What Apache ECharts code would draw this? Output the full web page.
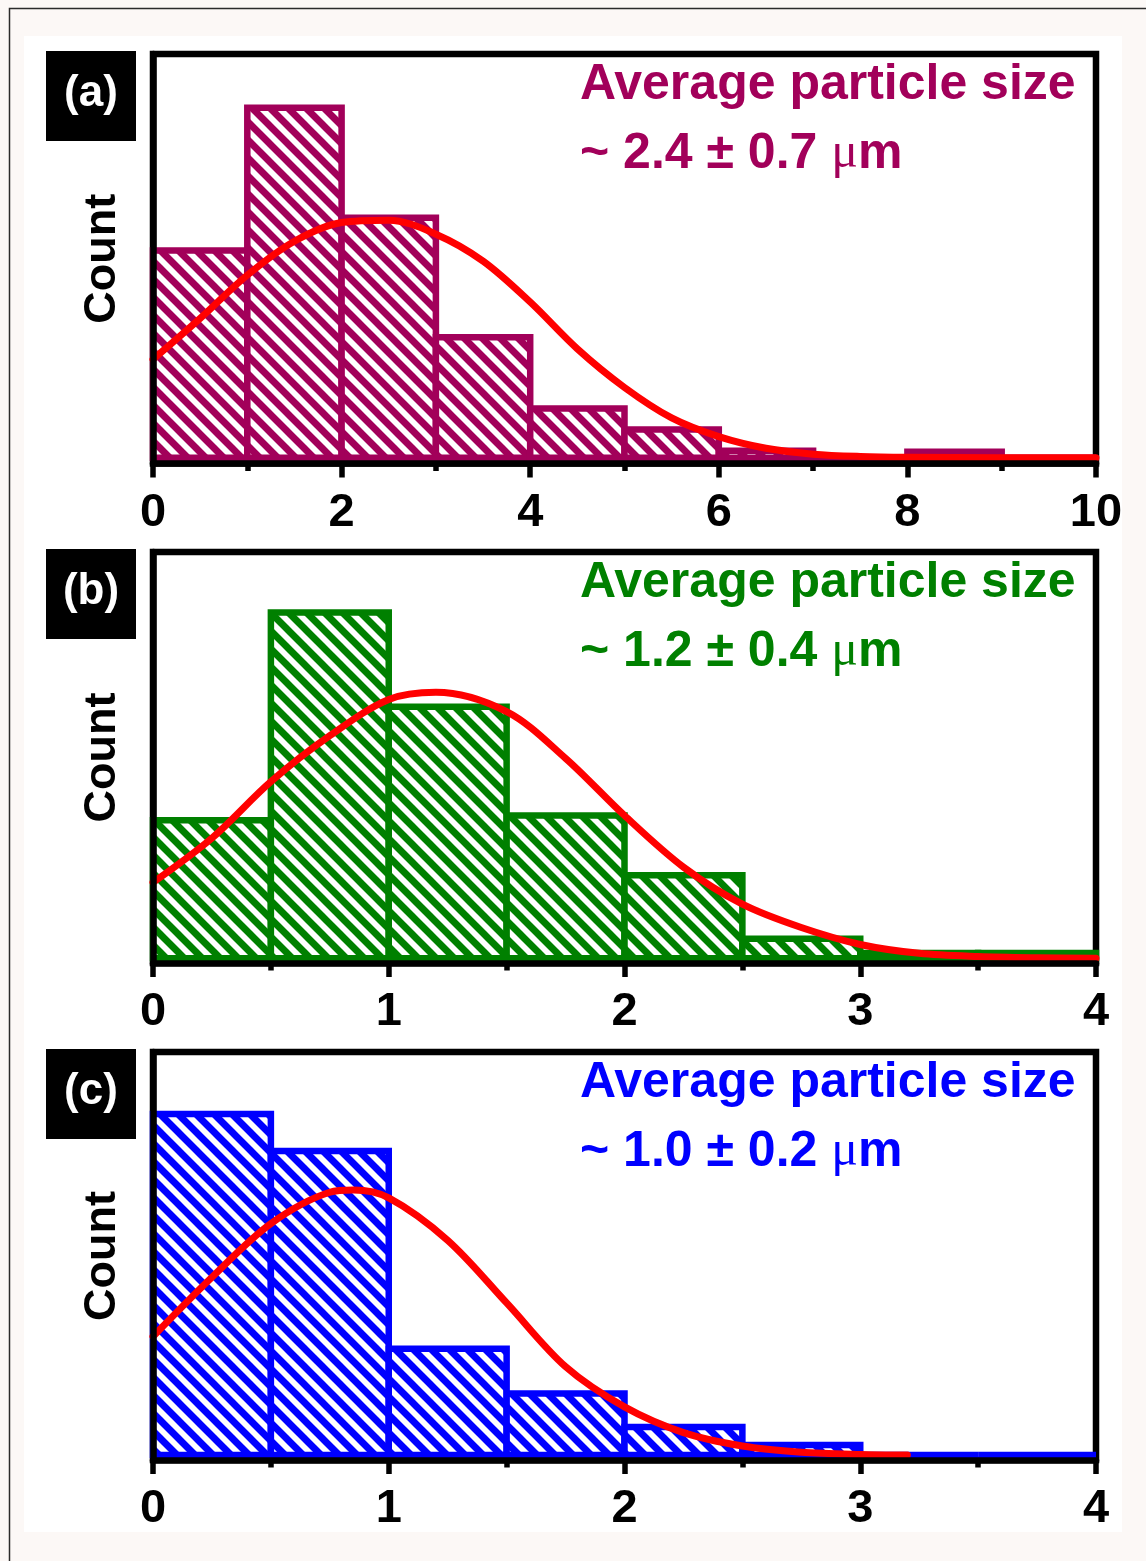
<!DOCTYPE html>
<html>
<head>
<meta charset="utf-8">
<script src="https://cdn.jsdelivr.net/npm/echarts@6/dist/echarts.min.js"></script>
<style>
  html, body { margin: 0; padding: 0; background: #fff; }
  #chart { width: 1146px; height: 1561px; }
</style>
</head>
<body>
<div id="chart"></div>
<script>
// ---- Histogram data (particle size, µm) ----
const binEdgesA = [0, 1, 2, 3, 4, 5, 6, 7, 8, 9, 10];
const countsA   = [17.7, 29.9, 20.5, 10.3, 4.2, 2.4, 0.6, 0, 0.5, 0];
const fitXA     = [0, 0.5, 1, 1.5, 2, 2.5, 3, 3.5, 4, 4.5, 5, 5.5, 6, 6.5, 7, 7.5, 8, 9, 10];
const fitYA     = [8.4, 11.9, 15.6, 18.5, 20.1, 20.3, 19.1, 16.8, 13.3, 9.3, 6.0, 3.4, 1.8, 0.8, 0.3, 0.1, 0.03, 0, 0];

const binEdgesB = [0, 0.5, 1, 1.5, 2, 2.5, 3, 3.5, 4];
const countsB   = [17.1, 42.9, 31.2, 17.7, 10.3, 2.4, 0.65, 0.65];
const fitXB     = [0, 0.25, 0.5, 0.75, 1, 1.2, 1.5, 1.75, 2, 2.25, 2.5, 2.75, 3, 3.25, 3.5, 3.75, 4];
const fitYB     = [9.4, 14.9, 21.9, 27.6, 32.1, 33.0, 30.6, 24.8, 17.7, 11.3, 6.7, 3.8, 1.7, 0.6, 0.2, 0.05, 0];

const binEdgesC = [0, 0.5, 1, 1.5, 2, 2.5, 3, 3.5, 4];
const countsC   = [30.5, 27.2, 9.5, 5.5, 2.5, 0.9, 0, 0];
const fitXC     = [0, 0.25, 0.5, 0.75, 0.85, 1, 1.25, 1.5, 1.75, 2, 2.25, 2.5, 2.75, 3, 3.2];
const fitYC     = [10.6, 15.9, 20.7, 23.5, 23.7, 23.0, 19.2, 13.6, 7.9, 4.3, 2.0, 0.8, 0.25, 0.05, 0];

// Axis ranges and tick steps
const xMaxes   = [10, 4, 4];
const xSteps   = [2, 1, 1];
const yRanges  = [[-0.5, 34.5], [-0.6, 50.4], [-0.45, 36.05]];

// Panel annotations
const panelTags  = ['(a)', '(b)', '(c)'];
const meanSizes  = [2.4, 1.2, 1.0];
const sizeSpread = [0.7, 0.4, 0.2];
const headline   = 'Average particle size';

const FONT = '"Liberation Sans", Arial, Helvetica, sans-serif';
const panelColors = ['#A2005A', '#008000', '#0000FF'];
const gridTops    = [54, 552, 1052];
const gridHeights = [409.5, 411, 408];

// Diagonal hatch fill (white ground, coloured "\" stripes)
function hatch(color) {
  const s = 18;
  const c = document.createElement('canvas');
  c.width = s; c.height = s;
  const g = c.getContext('2d');
  g.fillStyle = '#fff';
  g.fillRect(0, 0, s, s);
  g.strokeStyle = color;
  g.lineWidth = 7;
  g.beginPath();
  for (let k = -1; k <= 1; k++) {
    g.moveTo(k * s - 4, -4);
    g.lineTo(k * s + s + 4, s + 4);
  }
  g.stroke();
  return { image: c, repeat: 'repeat' };
}

function binRenderer(color) {
  const fill = hatch(color);
  return function (params, api) {
    const lo = api.coord([api.value(0), 0]);
    const hi = api.coord([api.value(1), api.value(2)]);
    return {
      type: 'rect',
      shape: { x: lo[0], y: hi[1], width: hi[0] - lo[0], height: lo[1] - hi[1] },
      style: { fill: fill, stroke: color, lineWidth: 6.5 }
    };
  };
}

const panels = [
  { edges: binEdgesA, counts: countsA, fitX: fitXA, fitY: fitYA },
  { edges: binEdgesB, counts: countsB, fitX: fitXB, fitY: fitYB },
  { edges: binEdgesC, counts: countsC, fitX: fitXC, fitY: fitYC }
];

const grid = [], xAxis = [], yAxis = [], series = [];
const graphic = [
  // page frame
  { type: 'rect', z: -20, shape: { x: 24, y: 36, width: 1098, height: 1496 }, style: { fill: '#fff' } },
  { type: 'rect', z: -19, shape: { x: 9.5, y: 8.5, width: 1300, height: 1700 }, style: { fill: 'none', stroke: '#2b2b2b', lineWidth: 1.5 } }
];

panels.forEach((p, i) => {
  const color = panelColors[i];
  const top = gridTops[i];
  grid.push({
    left: 153, top: top, width: 943, height: gridHeights[i],
    show: true, borderColor: '#000', borderWidth: 6.5, backgroundColor: '#fff'
  });
  xAxis.push({
    type: 'value', gridIndex: i, min: 0, max: xMaxes[i], interval: xSteps[i], z: 10,
    axisLine: { onZero: false, lineStyle: { color: '#000', width: 6.5 } },
    axisTick: { show: true, length: 14, lineStyle: { color: '#000', width: 5.5 } },
    minorTick: { show: true, splitNumber: 2, length: 7.5, lineStyle: { color: '#000', width: 5.5 } },
    splitLine: { show: false },
    minorSplitLine: { show: false },
    axisLabel: {
      margin: 26, color: '#000', fontSize: 47, fontWeight: 'bold', fontFamily: FONT,
      showMinLabel: true, showMaxLabel: true
    }
  });
  yAxis.push({
    type: 'value', gridIndex: i, min: yRanges[i][0], max: yRanges[i][1], z: 10,
    axisLine: { show: true, onZero: false, lineStyle: { color: '#000', width: 6.5 } },
    axisTick: { show: false },
    axisLabel: { show: false },
    splitLine: { show: false },
    name: 'Count', nameLocation: 'middle', nameGap: 28,
    nameTextStyle: { color: '#000', fontSize: 45, fontWeight: 'bold', fontFamily: FONT }
  });
  series.push({
    type: 'custom', xAxisIndex: i, yAxisIndex: i, z: 2,
    renderItem: binRenderer(color),
    encode: { x: [0, 1], y: 2 },
    data: p.counts.map((c, k) => [p.edges[k], p.edges[k + 1], c])
  });
  series.push({
    type: 'line', xAxisIndex: i, yAxisIndex: i, z: 4,
    smooth: 0.33, symbol: 'none',
    lineStyle: { color: '#FF0000', width: 7, cap: 'round', join: 'round' },
    data: p.fitX.map((x, k) => [x, p.fitY[k]])
  });

  // panel tag
  graphic.push({ type: 'rect', z: 50, shape: { x: 46, y: top - 3, width: 90, height: 90 }, style: { fill: '#000' } });
  graphic.push({
    type: 'text', z: 51, x: 91, y: top + 40,
    style: { text: panelTags[i], fill: '#fff', font: 'bold 44px ' + FONT, align: 'center', verticalAlign: 'middle' }
  });
  // size annotation
  graphic.push({
    type: 'text', z: 51, x: 580, y: top + 31,
    style: { text: headline, fill: color, font: 'bold 50px ' + FONT, verticalAlign: 'middle' }
  });
  graphic.push({
    type: 'text', z: 51, x: 580, y: top + 100,
    style: {
      text: '{v|~ ' + meanSizes[i].toFixed(1) + ' ± ' + sizeSpread[i].toFixed(1) + ' }{mu|μ}{v|m}',
      verticalAlign: 'middle',
      rich: {
        v:  { fill: color, fontSize: 50, fontWeight: 'bold', fontFamily: FONT },
        mu: { fill: color, fontSize: 50, fontWeight: 'normal', fontFamily: '"Liberation Serif", "DejaVu Serif", serif' }
      }
    }
  });
});

const chart = echarts.init(document.getElementById('chart'), null, { renderer: 'canvas' });
chart.setOption({
  animation: false,
  backgroundColor: '#fcf8f6',
  grid, xAxis, yAxis, series, graphic
});
</script>
</body>
</html>
